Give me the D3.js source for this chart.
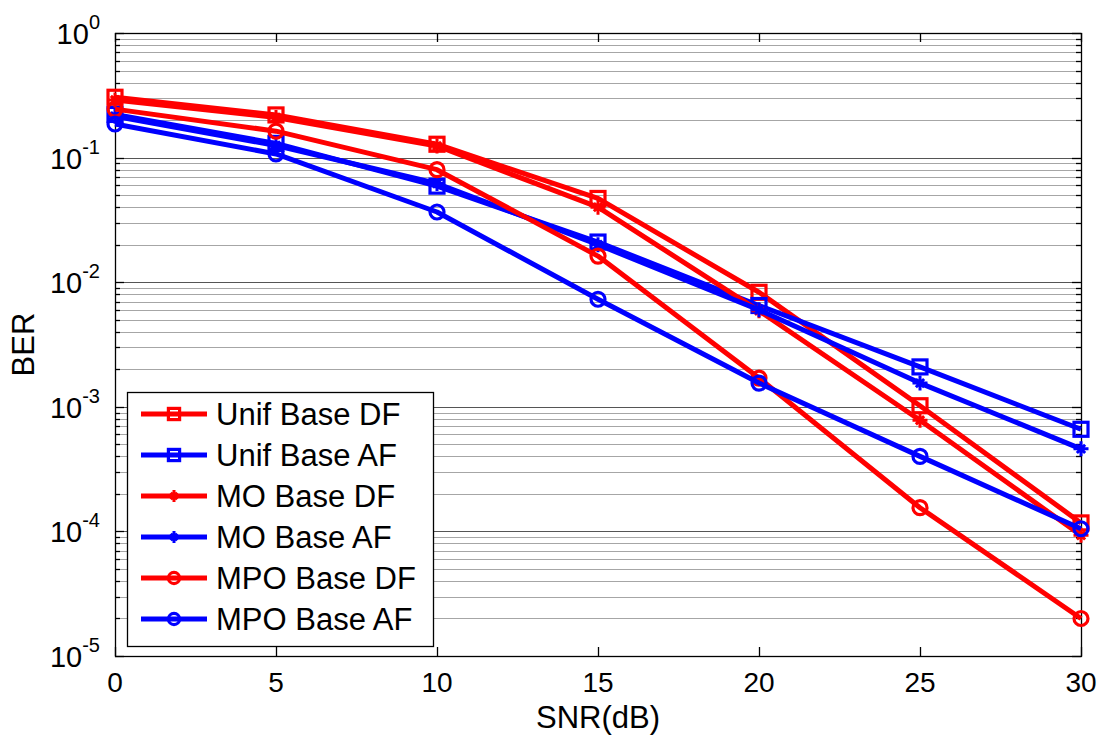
<!DOCTYPE html>
<html>
<head>
<meta charset="utf-8">
<script src="https://cdn.jsdelivr.net/npm/d3@7"></script>
<style>
  body { margin: 0; background: #fff; }
  svg { display: block; font-family: "Liberation Sans", Arial, sans-serif; }
</style>
</head>
<body>
<div id="chart"></div>
<script>
// SNR values (dB)
const snr = [0, 5, 10, 15, 20, 25, 30];

// BER values
const unifDF = [0.305, 0.22, 0.128, 0.047, 0.0083, 0.00102, 0.000117];
const unifAF = [0.222, 0.13, 0.059, 0.021, 0.0065, 0.00209, 0.00066];
const moDF   = [0.29, 0.21, 0.124, 0.040, 0.0059, 0.00078, 0.000093];
const moAF   = [0.215, 0.125, 0.062, 0.020, 0.0060, 0.00155, 0.00046];
const mpoDF  = [0.245, 0.163, 0.080, 0.0162, 0.0017, 0.000155, 0.00002];
const mpoAF  = [0.186, 0.107, 0.0366, 0.0073, 0.00155, 0.0004, 0.000105];

const seriesNames = ["Unif Base DF", "Unif Base AF", "MO Base DF", "MO Base AF", "MPO Base DF", "MPO Base AF"];
const seriesValues = [unifDF, unifAF, moDF, moAF, mpoDF, mpoAF];
const seriesColors = ["#ff0000", "#0000ff", "#ff0000", "#0000ff", "#ff0000", "#0000ff"];
const seriesMarkers = ["square", "square", "star", "star", "circle", "circle"];

const xTicks = [0, 5, 10, 15, 20, 25, 30];
const yDecades = [1, 1e-1, 1e-2, 1e-3, 1e-4, 1e-5];

const width = 1104;
const height = 736;
const marginLeft = 115;
const marginRight = 23;
const marginTop = 33;
const marginBottom = 80;

const x = d3.scaleLinear()
    .domain([0, 30])
    .range([marginLeft, width - marginRight]);

const y = d3.scaleLog()
    .domain([1e-5, 1])
    .range([height - marginBottom, marginTop]);

const svg = d3.select("#chart").append("svg")
    .attr("width", width)
    .attr("height", height);

const x0 = marginLeft, x1 = width - marginRight;
const y0 = height - marginBottom, y1 = marginTop;

// horizontal grid (minor + major)
const allY = y.ticks();
svg.append("g")
    .selectAll("line")
    .data(allY)
    .join("line")
    .attr("x1", x0).attr("x2", x1)
    .attr("y1", d => Math.round(y(d)) + 0.5)
    .attr("y2", d => Math.round(y(d)) + 0.5)
    .attr("stroke", d => yDecades.includes(d) ? "#555" : "#a6a6a6")
    .attr("stroke-width", 1.2);

// box
svg.append("rect")
    .attr("x", x0 + 0.5).attr("y", y1 + 0.5)
    .attr("width", x1 - x0).attr("height", y0 - y1)
    .attr("fill", "none")
    .attr("stroke", "#000")
    .attr("stroke-width", 1.3);

// ticks inside the box
const tickG = svg.append("g").attr("stroke", "#000").attr("stroke-width", 1.3);
xTicks.forEach(t => {
  const px = Math.round(x(t)) + 0.5;
  tickG.append("line").attr("x1", px).attr("x2", px).attr("y1", y0).attr("y2", y0 - 9);
  tickG.append("line").attr("x1", px).attr("x2", px).attr("y1", y1).attr("y2", y1 + 9);
});
allY.forEach(t => {
  const py = Math.round(y(t)) + 0.5;
  const len = yDecades.includes(t) ? 9 : 5;
  tickG.append("line").attr("x1", x0).attr("x2", x0 + len).attr("y1", py).attr("y2", py);
  tickG.append("line").attr("x1", x1).attr("x2", x1 - len).attr("y1", py).attr("y2", py);
});

// x tick labels
svg.append("g")
    .selectAll("text")
    .data(xTicks)
    .join("text")
    .attr("x", d => x(d))
    .attr("y", y0 + 36)
    .attr("text-anchor", "middle")
    .attr("font-size", 28)
    .text(d => d);

// y tick labels: 10^n
const yLab = svg.append("g")
    .selectAll("text")
    .data(yDecades)
    .join("text")
    .attr("x", 100)
    .attr("y", d => y(d) + 11)
    .attr("text-anchor", "end")
    .attr("font-size", 29);
yLab.append("tspan").text("10");
yLab.append("tspan")
    .attr("dy", -15)
    .attr("font-size", 20)
    .text(d => Math.round(Math.log10(d)));

// axis titles
svg.append("text")
    .attr("x", (x0 + x1) / 2)
    .attr("y", 728)
    .attr("text-anchor", "middle")
    .attr("font-size", 31)
    .text("SNR(dB)");

svg.append("text")
    .attr("transform", `translate(34,${(y0 + y1) / 2}) rotate(-90)`)
    .attr("text-anchor", "middle")
    .attr("font-size", 31)
    .text("BER");

// marker drawing
function drawMarker(g, type, color, cx, cy, scale) {
  const s = scale || 1;
  if (type === "square") {
    g.append("rect")
        .attr("x", cx - 7 * s).attr("y", cy - 7 * s)
        .attr("width", 14 * s).attr("height", 14 * s)
        .attr("fill", "none").attr("stroke", color).attr("stroke-width", 3.2);
  } else if (type === "circle") {
    g.append("circle")
        .attr("cx", cx).attr("cy", cy).attr("r", 7 * s)
        .attr("fill", "none").attr("stroke", color).attr("stroke-width", 3.2);
  } else {
    const r = 7.5 * s, d = r * 0.55;
    const p = `M${cx - r},${cy}L${cx + r},${cy}M${cx},${cy - r}L${cx},${cy + r}` +
              `M${cx - d},${cy - d}L${cx + d},${cy + d}M${cx - d},${cy + d}L${cx + d},${cy - d}`;
    g.append("path").attr("d", p).attr("stroke", color).attr("stroke-width", 3).attr("fill", "none");
  }
}

const line = d3.line()
    .x((d, i) => x(snr[i]))
    .y(d => y(d));

seriesValues.forEach((vals, k) => {
  const g = svg.append("g");
  g.append("path")
      .attr("d", line(vals))
      .attr("fill", "none")
      .attr("stroke", seriesColors[k])
      .attr("stroke-width", 5)
      .attr("stroke-linejoin", "round");
  vals.forEach((v, i) => drawMarker(g, seriesMarkers[k], seriesColors[k], x(snr[i]), y(v)));
});

// legend
const legX = 127, legY = 392, legW = 306, legH = 254;
const legend = svg.append("g");
legend.append("rect")
    .attr("x", legX + 0.5).attr("y", legY + 0.5)
    .attr("width", legW).attr("height", legH)
    .attr("fill", "#fff")
    .attr("stroke", "#000")
    .attr("stroke-width", 1.3);

seriesNames.forEach((name, k) => {
  const ly = legY + 22 + k * 41;
  const g = legend.append("g");
  g.append("line")
      .attr("x1", 141).attr("x2", 207)
      .attr("y1", ly).attr("y2", ly)
      .attr("stroke", seriesColors[k])
      .attr("stroke-width", 5);
  drawMarker(g, seriesMarkers[k], seriesColors[k], 174, ly, 0.8);
  g.append("text")
      .attr("x", 216)
      .attr("y", ly + 11)
      .attr("font-size", 31)
      .text(name);
});
</script>
</body>
</html>
